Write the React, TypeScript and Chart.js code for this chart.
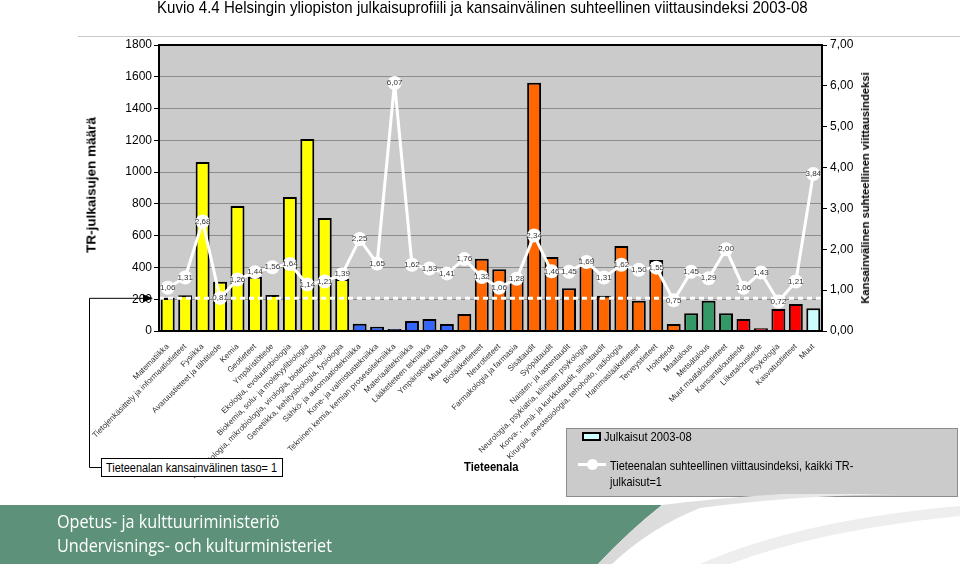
import React, { useEffect, useRef } from "react";
import { Chart, registerables } from "chart.js";

Chart.register(...registerables);

const categories: string[] = [
  "Matematiikka",
  "Tietojenkäsittely ja informaatiotieteet",
  "Fysiikka",
  "Avaruustieteet ja tähtitiede",
  "Kemia",
  "Geotieteet",
  "Ympäristötiede",
  "Ekologia, evoluutiobiologia",
  "Biokemia, solu- ja molekyylibiologia",
  "Kasvibiologia, mikrobiologia, virologia, biotekniologia",
  "Genetiikka, kehitysbiologia, fysiologia",
  "Sähkö- ja automaatiotekniikka",
  "Kone- ja valmistustekniikka",
  "Tekninen kemia, kemian prosessitekniikka",
  "Materiaalitekniikka",
  "Lääketieteen tekniikka",
  "Ympäristötekniikka",
  "Muu tekniikka",
  "Biolääketieteet",
  "Neurotieteet",
  "Farmakologia ja farmasia",
  "Sisätaudit",
  "Syöpätaudit",
  "Naisten- ja lastentaudit",
  "Neurologia, psykiatria, kliininen psykologia",
  "Korva-, nenä- ja kurkkutaudit, silmätaudit",
  "Kirurgia, anestesiologia, tehohoito, radiologia",
  "Hammaslääketieteet",
  "Terveystieteet",
  "Hoitotiede",
  "Maatalous",
  "Metsätalous",
  "Muut maataloustieteet",
  "Kansantaloustiede",
  "Liiketaloustiede",
  "Psykologia",
  "Kasvatustieteet",
  "Muut",
];

const publications: number[] = [
  208, 225, 1063, 310, 787, 342, 226, 843, 1208, 711, 327,
  46, 27, 13, 63, 75, 44,
  107, 455, 388, 320, 1563, 465, 269, 460, 222, 535, 191, 447, 44,
  111, 191, 111,
  76, 17, 138, 170,
  143,
];

const citationIndex: number[] = [
  1.06, 1.31, 2.68, 0.81, 1.26, 1.44, 1.56, 1.64, 1.14, 1.21, 1.39,
  2.25, 1.65, 6.07, 1.62, 1.53, 1.41,
  1.76, 1.32, 1.06, 1.28, 2.34, 1.46, 1.45, 1.69, 1.31, 1.62, 1.5, 1.55, 0.75,
  1.45, 1.29, 2.0,
  1.06, 1.43, 0.72, 1.21,
  3.84,
];

const groups: string[] = [
  "nat", "nat", "nat", "nat", "nat", "nat", "nat", "nat", "nat", "nat", "nat",
  "tech", "tech", "tech", "tech", "tech", "tech",
  "med", "med", "med", "med", "med", "med", "med", "med", "med", "med", "med", "med", "med",
  "agr", "agr", "agr",
  "soc", "soc", "soc", "soc",
  "other",
];

const groupColors: Record<string, string> = {
  nat: "#FFFF00",
  tech: "#3366FF",
  med: "#FF6600",
  agr: "#339966",
  soc: "#FF0000",
  other: "#CCFFFF",
};

const leftTicks: number[] = [0, 200, 400, 600, 800, 1000, 1200, 1400, 1600, 1800];
const rightTicks: number[] = [0, 1, 2, 3, 4, 5, 6, 7];
const referenceLevel = 0.8;

const fmt = (v: number) => v.toFixed(2).replace(".", ",");

const SANS = "'Liberation Sans', Arial, sans-serif";

const narrow = (scale: number): React.CSSProperties => ({
  fontFamily: SANS,
  transform: `scaleX(${scale})`,
  transformOrigin: "left center",
  whiteSpace: "nowrap",
});

const overlayPlugin = {
  id: "overlay",
  beforeDraw(chart: any) {
    const { ctx, chartArea: a } = chart;
    ctx.save();
    ctx.fillStyle = "#CBCBCB";
    ctx.fillRect(a.left, a.top, a.right - a.left, a.bottom - a.top);
    ctx.restore();
  },
  afterDatasetDraw(chart: any, args: any) {
    if (args.index !== 0) return;
    const { ctx, chartArea: a } = chart;
    const y = chart.scales.y1.getPixelForValue(referenceLevel);
    ctx.save();
    ctx.strokeStyle = "#FFFFFF";
    ctx.lineWidth = 3;
    ctx.setLineDash([5, 4]);
    ctx.beginPath();
    ctx.moveTo(a.left, y);
    ctx.lineTo(a.right, y);
    ctx.stroke();
    ctx.restore();
  },
  afterDatasetsDraw(chart: any) {
    const { ctx, chartArea: a } = chart;
    const meta = chart.getDatasetMeta(1);
    ctx.save();
    ctx.font = `8px ${SANS}`;
    ctx.fillStyle = "#333333";
    ctx.textAlign = "center";
    ctx.textBaseline = "middle";
    meta.data.forEach((pt: any, i: number) => {
      ctx.fillText(fmt(citationIndex[i]), pt.x, pt.y);
    });
    ctx.restore();

    ctx.save();
    ctx.strokeStyle = "#000";
    ctx.lineWidth = 2;
    ctx.strokeRect(a.left, a.top, a.right - a.left, a.bottom - a.top);
    ctx.restore();

    const y = chart.scales.y1.getPixelForValue(referenceLevel);
    ctx.save();
    ctx.strokeStyle = "#000";
    ctx.lineWidth = 1;
    ctx.beginPath();
    ctx.moveTo(101, 467.5);
    ctx.lineTo(89.5, 467.5);
    ctx.lineTo(89.5, y);
    ctx.lineTo(146, y);
    ctx.stroke();
    ctx.fillStyle = "#000";
    ctx.beginPath();
    ctx.moveTo(153, y);
    ctx.lineTo(143, y - 4);
    ctx.lineTo(143, y + 4);
    ctx.closePath();
    ctx.fill();
    ctx.restore();
  },
};

export default function App() {
  const canvasRef = useRef<HTMLCanvasElement | null>(null);

  useEffect(() => {
    if (!canvasRef.current) return;
    const chart = new Chart(canvasRef.current, {
      type: "bar",
      data: {
        labels: categories,
        datasets: [
          {
            type: "bar",
            label: "Julkaisut 2003-08",
            data: publications,
            backgroundColor: groups.map((g) => groupColors[g]),
            borderColor: "#000000",
            borderWidth: 2,
            yAxisID: "y",
            order: 2,
            barPercentage: 0.8,
            categoryPercentage: 1,
          } as any,
          {
            type: "line",
            label: "Tieteenalan suhteellinen viittausindeksi, kaikki TR-julkaisut=1",
            data: citationIndex,
            yAxisID: "y1",
            borderColor: "#FFFFFF",
            borderWidth: 3,
            pointRadius: 7,
            pointBackgroundColor: "#FFFFFF",
            pointBorderColor: "#FFFFFF",
            pointBorderWidth: 0,
            order: 0,
            tension: 0,
          } as any,
        ],
      },
      options: {
        responsive: false,
        animation: false,
        devicePixelRatio: 1,
        layout: { padding: { top: 45, left: 0, right: 0, bottom: 0 } },
        plugins: { legend: { display: false }, tooltip: { enabled: false } },
        scales: {
          x: {
            grid: { display: false },
            border: { display: true, color: "#000", width: 2 },
            ticks: {
              autoSkip: false,
              minRotation: 45,
              maxRotation: 45,
              padding: 3,
              color: "#333",
              font: { size: 8, family: SANS },
            },
            afterFit: (s: any) => {
              s.height = 169;
            },
          },
          y: {
            position: "left",
            min: 0,
            max: 1800,
            afterBuildTicks: (s: any) => {
              s.ticks = leftTicks.map((v) => ({ value: v }));
            },
            ticks: {
              padding: 2,
              color: "#000",
              font: { size: 12, family: SANS },
              callback: (v: any) => String(v),
            },
            grid: { color: "#8C8C8C", lineWidth: 1, tickColor: "#000", tickLength: 5 },
            border: { color: "#000", width: 2 },
            afterFit: (s: any) => {
              s.width = 159;
            },
          },
          y1: {
            position: "right",
            min: 0,
            max: 7,
            afterBuildTicks: (s: any) => {
              s.ticks = rightTicks.map((v) => ({ value: v }));
            },
            ticks: {
              padding: 3,
              color: "#000",
              font: { size: 12, family: SANS },
              callback: (v: any) => fmt(Number(v)),
            },
            grid: { drawOnChartArea: false, tickColor: "#000", tickLength: 5 },
            border: { color: "#000", width: 2 },
            afterFit: (s: any) => {
              s.width = 138;
            },
          },
        },
      } as any,
      plugins: [overlayPlugin],
    });
    return () => chart.destroy();
  }, []);

  const rot = (cx: number, cy: number, size: number): React.CSSProperties => ({
    position: "absolute",
    left: cx,
    top: cy,
    transform: "translate(-50%, -50%) rotate(-90deg)",
    whiteSpace: "nowrap",
    fontFamily: SANS,
    fontWeight: "bold",
    fontSize: size,
    color: "#000",
  });

  return (
    <div
      style={{
        position: "fixed",
        left: 0,
        top: 0,
        width: 960,
        height: 564,
        background: "#FFFFFF",
        overflow: "hidden",
      }}
    >
      <div style={{ position: "absolute", left: 78, top: 36, width: 882, height: 1, background: "#C8C8C8" }} />
      <canvas
        ref={canvasRef}
        width={960}
        height={500}
        style={{ position: "absolute", left: 0, top: 0, width: 960, height: 500 }}
      />
      <div
        style={{
          position: "absolute",
          left: 157,
          top: -2,
          fontSize: 17,
          lineHeight: "20px",
          color: "#000",
          ...narrow(0.885),
        }}
      >
        Kuvio 4.4 Helsingin yliopiston julkaisuprofiili ja kansainvälinen suhteellinen viittausindeksi 2003-08
      </div>
      <div style={rot(91, 185, 13.5)}>TR-julkaisujen määrä</div>
      <div style={rot(865, 188, 11.2)}>Kansainvälinen suhteellinen viittausindeksi</div>

      <div
        style={{
          position: "absolute",
          left: 101,
          top: 458,
          width: 182,
          height: 19,
          border: "1px solid #000",
          background: "#FFF",
          boxSizing: "border-box",
        }}
      >
        <div style={{ position: "absolute", left: 4, top: 0, fontSize: 13, lineHeight: "17px", ...narrow(0.84) }}>
          Tieteenalan kansainvälinen taso= 1
        </div>
      </div>

      <div
        style={{
          position: "absolute",
          left: 464,
          top: 459,
          fontWeight: "bold",
          fontSize: 13,
          lineHeight: "16px",
          ...narrow(0.86),
        }}
      >
        Tieteenala
      </div>

      <div
        style={{
          position: "absolute",
          left: 566,
          top: 428,
          width: 392,
          height: 69,
          background: "#CBCBCB",
          border: "1px solid #8C8C8C",
          boxSizing: "border-box",
          color: "#000",
        }}
      >
        <div
          style={{
            position: "absolute",
            left: 15,
            top: 3,
            width: 19,
            height: 9,
            background: "#CCFFFF",
            border: "2px solid #000",
            boxSizing: "border-box",
          }}
        />
        <div style={{ position: "absolute", left: 37, top: 0, fontSize: 13, lineHeight: "16px", ...narrow(0.86) }}>
          Julkaisut 2003-08
        </div>
        <div style={{ position: "absolute", left: 11, top: 34, width: 28, height: 3, background: "#FFF" }} />
        <div
          style={{
            position: "absolute",
            left: 20,
            top: 30,
            width: 11,
            height: 11,
            borderRadius: "50%",
            background: "#FFF",
          }}
        />
        <div style={{ position: "absolute", left: 43, top: 29, fontSize: 13, lineHeight: "16px", ...narrow(0.84) }}>
          Tieteenalan suhteellinen viittausindeksi, kaikki TR-
          <br />
          julkaisut=1
        </div>
      </div>

      <svg
        width={960}
        height={70}
        style={{ position: "absolute", left: 0, top: 494 }}
        viewBox="0 494 960 70"
      >
        <defs>
          <linearGradient id="sw" x1="0" y1="0" x2="1" y2="0">
            <stop offset="0" stopColor="#D8D8D8" />
            <stop offset="1" stopColor="#F4F4F4" />
          </linearGradient>
        </defs>
        <path d="M0 505 L662 505 Q630 530 598 564 L0 564 Z" fill="#5D917A" />
        <path d="M662 505 Q630 530 598 564 L612 564 Q650 528 700 508 Q820 492 960 494 L960 490 Q800 488 662 505 Z" fill="url(#sw)" />
        <path d="M700 564 Q800 520 960 506 L960 516 Q820 530 730 564 Z" fill="#EEEEEE" />
      </svg>
      <div
        style={{
          position: "absolute",
          left: 57,
          top: 509,
          fontSize: 18,
          lineHeight: "24px",
          color: "#FFFFFF",
          ...narrow(0.9),
          fontFamily: "'Open Sans', 'Noto Sans', sans-serif",
        }}
      >
        Opetus- ja kulttuuriministeriö
        <br />
        Undervisnings- och kulturministeriet
      </div>
    </div>
  );
}
